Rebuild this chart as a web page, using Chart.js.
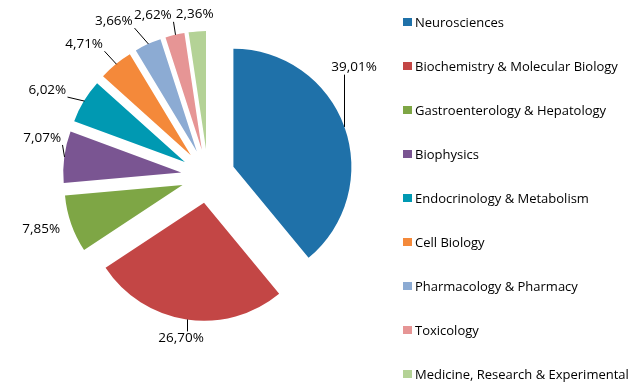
<!DOCTYPE html>
<html>
<head>
<meta charset="utf-8">
<script src="https://cdn.jsdelivr.net/npm/chart.js@4/dist/chart.umd.min.js"></script>
<style>
  body { margin: 0; background: #fff; }
  #wrap { position: relative; width: 644px; height: 388px; overflow: hidden; }
  #c { position: absolute; left: 0; top: 0; }
  .item { position: absolute; left: 403px; height: 16px; line-height: 16px; font: 13px "Open Sans", sans-serif; color: #000; white-space: nowrap; }
  .box { position: absolute; left: 0; top: 4px; width: 9px; height: 8px; }
  .txt { position: absolute; left: 12px; top: -1px; }
</style>
</head>
<body>
<div id="wrap">
  <canvas id="c" width="644" height="388"></canvas>
  <div id="legend"></div>
</div>
<script>
// ---- data ----
const categories = [
  "Neurosciences",
  "Biochemistry & Molecular Biology",
  "Gastroenterology & Hepatology",
  "Biophysics",
  "Endocrinology & Metabolism",
  "Cell Biology",
  "Pharmacology & Pharmacy",
  "Toxicology",
  "Medicine, Research & Experimental"
];
const shares = [39.01, 26.70, 7.85, 7.07, 6.02, 4.71, 3.66, 2.62, 2.36];
const percentLabels = ["39,01%", "26,70%", "7,85%", "7,07%", "6,02%", "4,71%", "3,66%", "2,62%", "2,36%"];

// ---- style / layout ----
const colors = ["#1F71A9", "#C34645", "#7EA645", "#7A5592", "#0099B2", "#F4893A", "#8CABD3", "#E69595", "#B4D296"];
const labelOffsets = [[9.6, -59.3], [-5.5, 19], [-30, 5], [-22, -19], [-36.5, -11], [-31.5, -20], [-34, -23], [-22, -20], [-2.5, -17.5]];
const explode = 27;
const FONT = '13.5px "Open Sans", sans-serif';

// legend
const legend = document.getElementById('legend');
categories.forEach((name, i) => {
  const cy = 22.3 + 43.9 * i;
  const it = document.createElement('div');
  it.className = 'item';
  it.style.top = (cy - 8) + 'px';
  const b = document.createElement('div');
  b.className = 'box';
  b.style.background = colors[i];
  const t = document.createElement('div');
  t.className = 'txt';
  t.textContent = name;
  it.appendChild(b); it.appendChild(t);
  legend.appendChild(it);
});

const explodePlugin = {
  id: 'explode',
  beforeDatasetDraw(chart, args) {
    const ctx = chart.ctx;
    args.meta.data.forEach(arc => {
      const mid = (arc.startAngle + arc.endAngle) / 2;
      ctx.save();
      ctx.translate(Math.cos(mid) * explode, Math.sin(mid) * explode);
      arc.draw(ctx);
      ctx.restore();
    });
    return false;
  },
  afterDatasetsDraw(chart) {
    const ctx = chart.ctx;
    const meta = chart.getDatasetMeta(0);
    ctx.save();
    ctx.font = FONT;
    meta.data.forEach((arc, i) => {
      const mid = (arc.startAngle + arc.endAngle) / 2;
      const r = arc.outerRadius + explode;
      const ax = arc.x + Math.cos(mid) * r, ay = arc.y + Math.sin(mid) * r;
      const lx = ax + labelOffsets[i][0], ly = ay + labelOffsets[i][1];
      const text = percentLabels[i];
      const w = ctx.measureText(text).width, h = 14;
      const bx = Math.max(lx - w / 2 - 1, Math.min(ax, lx + w / 2 + 1));
      const by = Math.max(ly - h / 2, Math.min(ay, ly + h / 2));
      const dist = Math.hypot(ax - bx, ay - by);
      if (dist > 11) {
        ctx.beginPath();
        ctx.moveTo(Math.round(ax) + 0.5, ay);
        ctx.lineTo(Math.round(bx) + 0.5, by);
        ctx.strokeStyle = '#000';
        ctx.lineWidth = 1;
        ctx.stroke();
      }
      ctx.fillStyle = '#000';
      ctx.textAlign = 'center';
      ctx.textBaseline = 'middle';
      ctx.fillText(text, lx, ly);
    });
    ctx.restore();
  }
};

new Chart(document.getElementById('c'), {
  type: 'pie',
  data: {
    labels: categories,
    datasets: [{ data: shares, backgroundColor: colors, borderWidth: 0, hoverOffset: 0 }]
  },
  options: {
    responsive: false,
    animation: false,
    devicePixelRatio: 1,
    radius: 118,
    events: [],
    layout: { padding: { left: 0, right: 228, top: 0, bottom: 36 } },
    plugins: { legend: { display: false }, tooltip: { enabled: false } }
  },
  plugins: [explodePlugin]
});
</script>
</body>
</html>
